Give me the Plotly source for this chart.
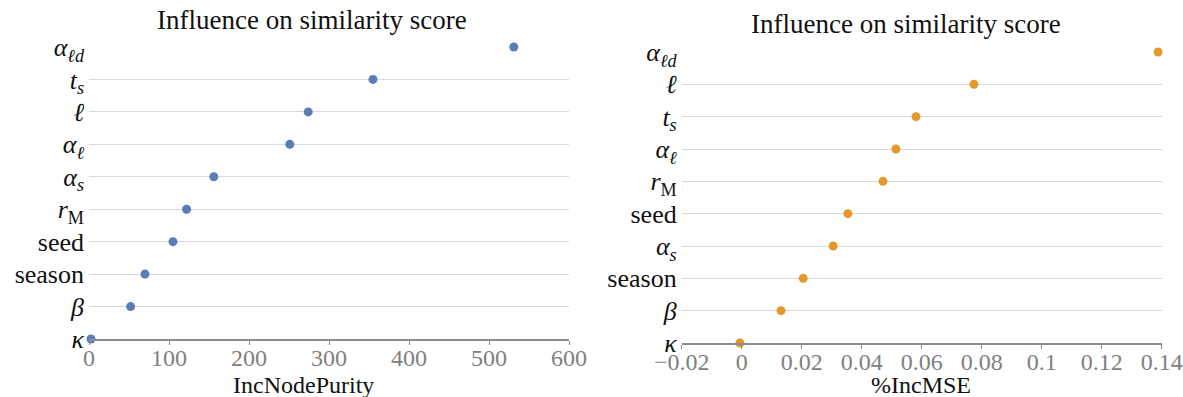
import plotly.graph_objects as go

# Left panel (IncNodePurity), listed top to bottom
left_labels = ["<i>α</i><sub><i>ℓd</i></sub>", "<i>t</i><sub><i>s</i></sub>", "<i>ℓ</i>",
               "<i>α</i><sub><i>ℓ</i></sub>", "<i>α</i><sub><i>s</i></sub>", "<i>r</i><sub>M</sub>",
               "seed", "season", "<i>β</i>", "<i>κ</i>"]
left_values = [531, 355, 274, 251, 156, 122, 105, 70, 52, 2.5]

# Right panel (%IncMSE), listed top to bottom
right_labels = ["<i>α</i><sub><i>ℓd</i></sub>", "<i>ℓ</i>", "<i>t</i><sub><i>s</i></sub>",
                "<i>α</i><sub><i>ℓ</i></sub>", "<i>r</i><sub>M</sub>", "seed",
                "<i>α</i><sub><i>s</i></sub>", "season", "<i>β</i>", "<i>κ</i>"]
right_values = [0.1388, 0.0774, 0.0581, 0.0514, 0.0471, 0.0354, 0.0305, 0.0205, 0.0131, -0.0006]

title_text = "Influence on similarity score"
left_xtitle = "IncNodePurity"
right_xtitle = "%IncMSE"

FONT = "Liberation Serif"
W, H = 1183, 397

fig = go.Figure()
fig.add_trace(go.Scatter(x=left_values[::-1], y=left_labels[::-1], mode="markers",
                         marker=dict(color="#5a7db7", size=9), cliponaxis=False,
                         xaxis="x", yaxis="y", showlegend=False))
fig.add_trace(go.Scatter(x=right_values[::-1], y=right_labels[::-1], mode="markers",
                         marker=dict(color="#e49a2a", size=9), cliponaxis=False,
                         xaxis="x2", yaxis="y2", showlegend=False))

xcommon = dict(showgrid=False, zeroline=False, showline=True, linecolor="#8c8c8c", linewidth=1.5,
               ticks="outside", ticklen=4, tickcolor="#8c8c8c", automargin=False,
               ticklabelstandoff=-8,
               tickfont=dict(family=FONT, size=24, color="#808080"))
ycommon = dict(type="category", showgrid=True, gridcolor="#d9d9d9", gridwidth=1,
               zeroline=False, showline=False, ticks="", range=[0, 9], automargin=False,
               ticklabelstandoff=4,
               tickfont=dict(family=FONT, size=26, color="#111111"))

def ann(text, x, y, size):
    return dict(text=text, x=x / W, y=1 - y / H, xref="paper", yref="paper",
                xanchor="center", yanchor="middle", showarrow=False,
                font=dict(family=FONT, size=size, color="#111111"))

fig.update_layout(
    width=W, height=H,
    margin=dict(l=0, r=0, t=0, b=0, autoexpand=False),
    paper_bgcolor="white", plot_bgcolor="white",
    xaxis=dict(domain=[89 / W, 569 / W], range=[0, 600], dtick=100, anchor="y", **xcommon),
    yaxis=dict(domain=[1 - 339 / H, 1 - 47 / H], anchor="x",
               categoryarray=left_labels[::-1], **ycommon),
    xaxis2=dict(domain=[681.7 / W, 1161.7 / W], range=[-0.02, 0.14], dtick=0.02, anchor="y2", **xcommon),
    yaxis2=dict(domain=[1 - 343 / H, 1 - 52 / H], anchor="x2",
                categoryarray=right_labels[::-1], **ycommon),
    annotations=[
        ann(title_text, 312, 20, 27),
        ann(title_text, 906, 24, 27),
        ann(left_xtitle, 303, 385, 24),
        ann(right_xtitle, 921, 385, 24),
    ],
)

fig.write_html("out.html")
